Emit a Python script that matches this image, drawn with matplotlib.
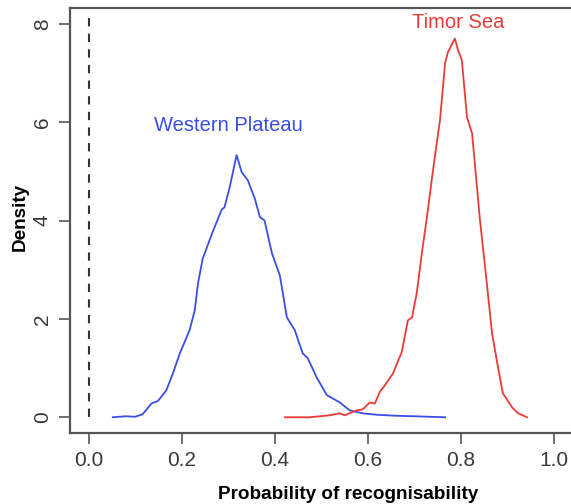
import matplotlib
matplotlib.use("Agg")
import matplotlib.pyplot as plt

plt.rcParams['font.family'] = ['Liberation Sans', 'DejaVu Sans']

# Western Plateau density
wp_x = [0.052, 0.08, 0.10, 0.116, 0.135, 0.149, 0.167, 0.181, 0.196, 0.217, 0.228,
        0.235, 0.245, 0.267, 0.286, 0.292, 0.303, 0.318, 0.329, 0.342, 0.357, 0.368,
        0.378, 0.394, 0.411, 0.426, 0.443, 0.460, 0.471, 0.49, 0.512, 0.54, 0.561,
        0.589, 0.62, 0.662, 0.70, 0.766]
wp_y = [0.0, 0.02, 0.01, 0.06, 0.28, 0.33, 0.55, 0.89, 1.3, 1.77, 2.17,
        2.72, 3.22, 3.78, 4.22, 4.27, 4.67, 5.33, 4.98, 4.82, 4.45, 4.07,
        4.0, 3.33, 2.88, 2.03, 1.77, 1.30, 1.2, 0.81, 0.45, 0.3, 0.14,
        0.08, 0.05, 0.03, 0.02, 0.0]

# Timor Sea density
ts_x = [0.422, 0.475, 0.518, 0.54, 0.55, 0.576, 0.589, 0.604, 0.615, 0.626, 0.632,
        0.654, 0.673, 0.686, 0.695, 0.705, 0.716, 0.727, 0.740, 0.755, 0.766, 0.772,
        0.787, 0.794, 0.802, 0.813, 0.824, 0.841, 0.852, 0.867, 0.877, 0.890, 0.91,
        0.923, 0.942]
ts_y = [0.0, 0.0, 0.04, 0.08, 0.04, 0.14, 0.16, 0.3, 0.28, 0.52, 0.59,
        0.89, 1.33, 1.97, 2.03, 2.52, 3.33, 4.07, 5.02, 6.04, 7.2, 7.42,
        7.7, 7.46, 7.26, 6.1, 5.77, 4.0, 3.05, 1.7, 1.16, 0.49, 0.2,
        0.08, 0.0]

x_ticks = [0.0, 0.2, 0.4, 0.6, 0.8, 1.0]
y_ticks = [0, 2, 4, 6, 8]

blue = '#3a4ee6'
red = '#ec3b36'

fig = plt.figure(figsize=(5.71, 5.04), dpi=100)
ax = fig.add_axes([70 / 571, 71 / 504, 502.6 / 571, 425 / 504])

ax.plot(wp_x, wp_y, color=blue, lw=1.3)
ax.plot(ts_x, ts_y, color=red, lw=1.3)
ax.plot([0, 0], [0, 8.2], color='#333333', lw=1.5, ls=(0, (4, 3.5)))

ax.text(0.301, 5.93, 'Western Plateau', color=blue, fontsize=14.5, ha='center', va='center')
ax.text(0.794, 8.03, 'Timor Sea', color=red, fontsize=14.5, ha='center', va='center')

ax.set_xlim(-0.04, 1.04)
ax.set_ylim(-0.32, 8.32)
ax.set_xticks(x_ticks)
ax.set_xticklabels([f'{t:.1f}' for t in x_ticks])
ax.set_yticks(y_ticks)
ax.set_yticklabels([str(t) for t in y_ticks], rotation=90, va='center')

for s in ['left', 'bottom', 'top']:
    ax.spines[s].set_color('#555555')
    ax.spines[s].set_linewidth(1.6)
ax.spines['right'].set_visible(False)
ax.tick_params(direction='out', length=8, width=1.2, color='#555555',
               labelsize=15, labelcolor='#3a3a3a', pad=5)

ax.set_xlabel('Probability of recognisability', fontsize=13.6, fontweight='bold')
ax.set_ylabel('Density', fontsize=13.6, fontweight='bold')
ax.xaxis.set_label_coords(0.553, -0.125)
ax.yaxis.set_label_coords(-0.082, 0.508)

fig.savefig('out.png', dpi=100)
